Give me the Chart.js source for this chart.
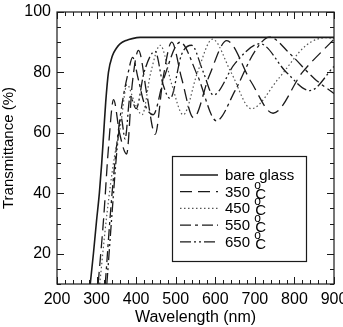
<!DOCTYPE html>
<html>
<head>
<meta charset="utf-8">
<script src="https://cdn.jsdelivr.net/npm/chart.js@4.4.0/dist/chart.umd.min.js"></script>
<style>
body { margin: 0; background: #fff; }
canvas { display: block; }
</style>
</head>
<body>
<canvas id="c" width="343" height="327"></canvas>
<script>
// tick labels
var wavelengthTicks = [200, 300, 400, 500, 600, 700, 800, 900];
var transTicks = [20, 40, 60, 80, 100];

// series names (legend)
var seriesNames = ['bare glass', '350', '450', '550', '650'];

// bare glass
var wlBare = [284, 292, 300, 307, 313, 318, 323, 330, 340, 350, 360, 375, 390, 410, 900];
var tBare = [10, 20, 31, 40, 50, 60, 70, 80, 85.5, 88, 89.5, 90.6, 91.2, 91.6, 91.6];

// 350 C
var wl350 = [304, 318, 330, 343, 358, 376, 390, 406, 428, 448, 468, 490, 515, 545, 585, 629, 690, 746, 820, 900];
var t350 = [10, 32, 55, 71, 60, 53, 76, 87.3, 72, 59.5, 78, 90, 78, 65, 79, 90.5, 77, 66.5, 80, 91];

// 450 C
var wl450 = [308, 326, 345, 360, 377, 396, 415, 437, 461, 490, 519, 555, 593, 640, 691, 760, 830, 880, 900];
var t450 = [10, 33, 52, 62, 76, 70, 66, 80, 89, 76, 66, 80, 91, 80, 68, 78, 89, 91.5, 91.2];

// 550 C
var wl550 = [322, 336, 350, 365, 380, 391, 405, 420, 443, 470, 511, 555, 603, 650, 700, 737, 790, 850, 900];
var t550 = [10, 35, 55, 70, 80, 85, 78, 70, 66, 78, 90, 79, 64, 74, 87, 91.7, 86, 78, 73];

// 650 C
var wl650 = [326, 340, 352, 362, 372, 385, 400, 420, 448, 468, 486, 515, 540, 570, 595, 650, 713, 780, 839, 900];
var t650 = [10, 35, 55, 65, 58, 72, 68, 80, 87, 76, 71.4, 86, 89, 80, 72.5, 83, 89.5, 80, 74, 82];

var ink = '#1a1a1a';
var fam = '"Liberation Sans", Arial, sans-serif';

function pts(xs, ys) {
	return xs.map(function (x, i) { return { x: x, y: ys[i] }; });
}

function serie(label, xs, ys, dash, width, color) {
	return {
		label: label,
		data: pts(xs, ys),
		borderColor: color,
		borderWidth: width,
		borderDash: dash,
		fill: false,
		pointRadius: 0,
		cubicInterpolationMode: 'monotone'
	};
}

// frame with inward ticks on all four sides
var frameTicks = {
	id: 'frameTicks',
	afterDatasetsDraw: function (chart) {
		var ctx = chart.ctx;
		var a = chart.chartArea;
		var sx = chart.scales.x, sy = chart.scales.y;
		ctx.save();
		ctx.strokeStyle = ink;
		ctx.lineWidth = 1.2;
		ctx.strokeRect(a.left, a.top, a.right - a.left, a.bottom - a.top);
		ctx.lineWidth = 1;
		ctx.beginPath();
		for (var v = 200; v <= 900; v += 20) {
			var px = Math.round(sx.getPixelForValue(v)) + 0.5;
			var len = (v % 100 == 0) ? 7 : 4;
			ctx.moveTo(px, a.bottom); ctx.lineTo(px, a.bottom - len);
			ctx.moveTo(px, a.top); ctx.lineTo(px, a.top + len);
		}
		for (var w = 10; w <= 100; w += 5) {
			var py = Math.round(sy.getPixelForValue(w)) + 0.5;
			var l2 = (w % 20 == 0) ? 7 : 4;
			ctx.moveTo(a.left, py); ctx.lineTo(a.left + l2, py);
			ctx.moveTo(a.right, py); ctx.lineTo(a.right - l2, py);
		}
		ctx.stroke();
		ctx.restore();
	}
};

// boxed legend inside the plot, with superscript degree sign
var boxLegend = {
	id: 'boxLegend',
	afterDraw: function (chart) {
		var ctx = chart.ctx;
		ctx.save();
		ctx.fillStyle = '#fff';
		ctx.fillRect(172, 156, 134, 105);
		ctx.strokeStyle = ink;
		ctx.lineWidth = 1.2;
		ctx.strokeRect(172.5, 156.5, 134, 105);
		chart.data.datasets.forEach(function (ds, i) {
			var ly = 175 + i * 16.7;
			ctx.beginPath();
			ctx.setLineDash(ds.borderDash || []);
			ctx.lineWidth = ds.borderWidth;
			ctx.strokeStyle = ds.borderColor;
			ctx.moveTo(180, ly);
			ctx.lineTo(218, ly);
			ctx.stroke();
			ctx.setLineDash([]);
			ctx.fillStyle = '#000';
			ctx.textBaseline = 'alphabetic';
			ctx.textAlign = 'left';
			ctx.font = '15px ' + fam;
			if (i == 0) {
				ctx.fillText(ds.label, 225, ly + 5);
			} else {
				var base = ly + 5;
				ctx.fillText(ds.label + ' ', 225, base);
				var w = ctx.measureText(ds.label + ' ').width;
				ctx.font = '12px ' + fam;
				ctx.fillText('o', 225 + w, base - 8);
				ctx.font = '15px ' + fam;
				ctx.fillText('C', 225 + w + 1, base + 2);
			}
		});
		ctx.restore();
	}
};

var config = {
	type: 'line',
	data: {
		datasets: [
			serie(seriesNames[0], wlBare, tBare, [], 1.6, ink),
			serie(seriesNames[1], wl350, t350, [12, 6], 1.3, ink),
			serie(seriesNames[2], wl450, t450, [1.5, 2.5], 1.2, '#555'),
			serie(seriesNames[3], wl550, t550, [11, 4, 3, 4], 1.3, ink),
			serie(seriesNames[4], wl650, t650, [11, 3, 2, 3, 2, 3], 1.3, ink)
		]
	},
	options: {
		responsive: false,
		animation: false,
		layout: { padding: { top: 12, right: 9, left: 0, bottom: 0 } },
		plugins: {
			legend: { display: false },
			tooltip: { enabled: false }
		},
		scales: {
			x: {
				type: 'linear',
				min: 200,
				max: 900,
				afterBuildTicks: function (s) {
					s.ticks = wavelengthTicks.map(function (v) { return { value: v }; });
				},
				afterFit: function (s) {
					s.height = 43;
					s.paddingLeft = 0;
					s.paddingRight = 0;
				},
				grid: { display: false, drawTicks: false },
				border: { display: false },
				ticks: {
					color: '#000',
					padding: 6,
					maxRotation: 0,
					autoSkip: false,
					font: { size: 16, family: fam }
				},
				title: {
					display: true,
					text: 'Wavelength (nm)',
					color: '#000',
					padding: { top: 0, bottom: 0 },
					font: { size: 16, family: fam }
				}
			},
			y: {
				min: 10,
				max: 100,
				afterBuildTicks: function (s) {
					s.ticks = transTicks.map(function (v) { return { value: v }; });
				},
				afterFit: function (s) {
					s.width = 57;
					s.paddingTop = 0;
					s.paddingBottom = 0;
				},
				grid: { display: false, drawTicks: false },
				border: { display: false },
				ticks: {
					color: '#000',
					padding: 6,
					font: { size: 16, family: fam }
				},
				title: {
					display: true,
					text: 'Transmittance (%)',
					color: '#000',
					padding: { top: 0, bottom: 0 },
					font: { size: 15, family: fam }
				}
			}
		}
	},
	plugins: [frameTicks, boxLegend]
};

var bieuDo = new Chart(document.getElementById('c').getContext('2d'), config);
</script>
</body>
</html>
